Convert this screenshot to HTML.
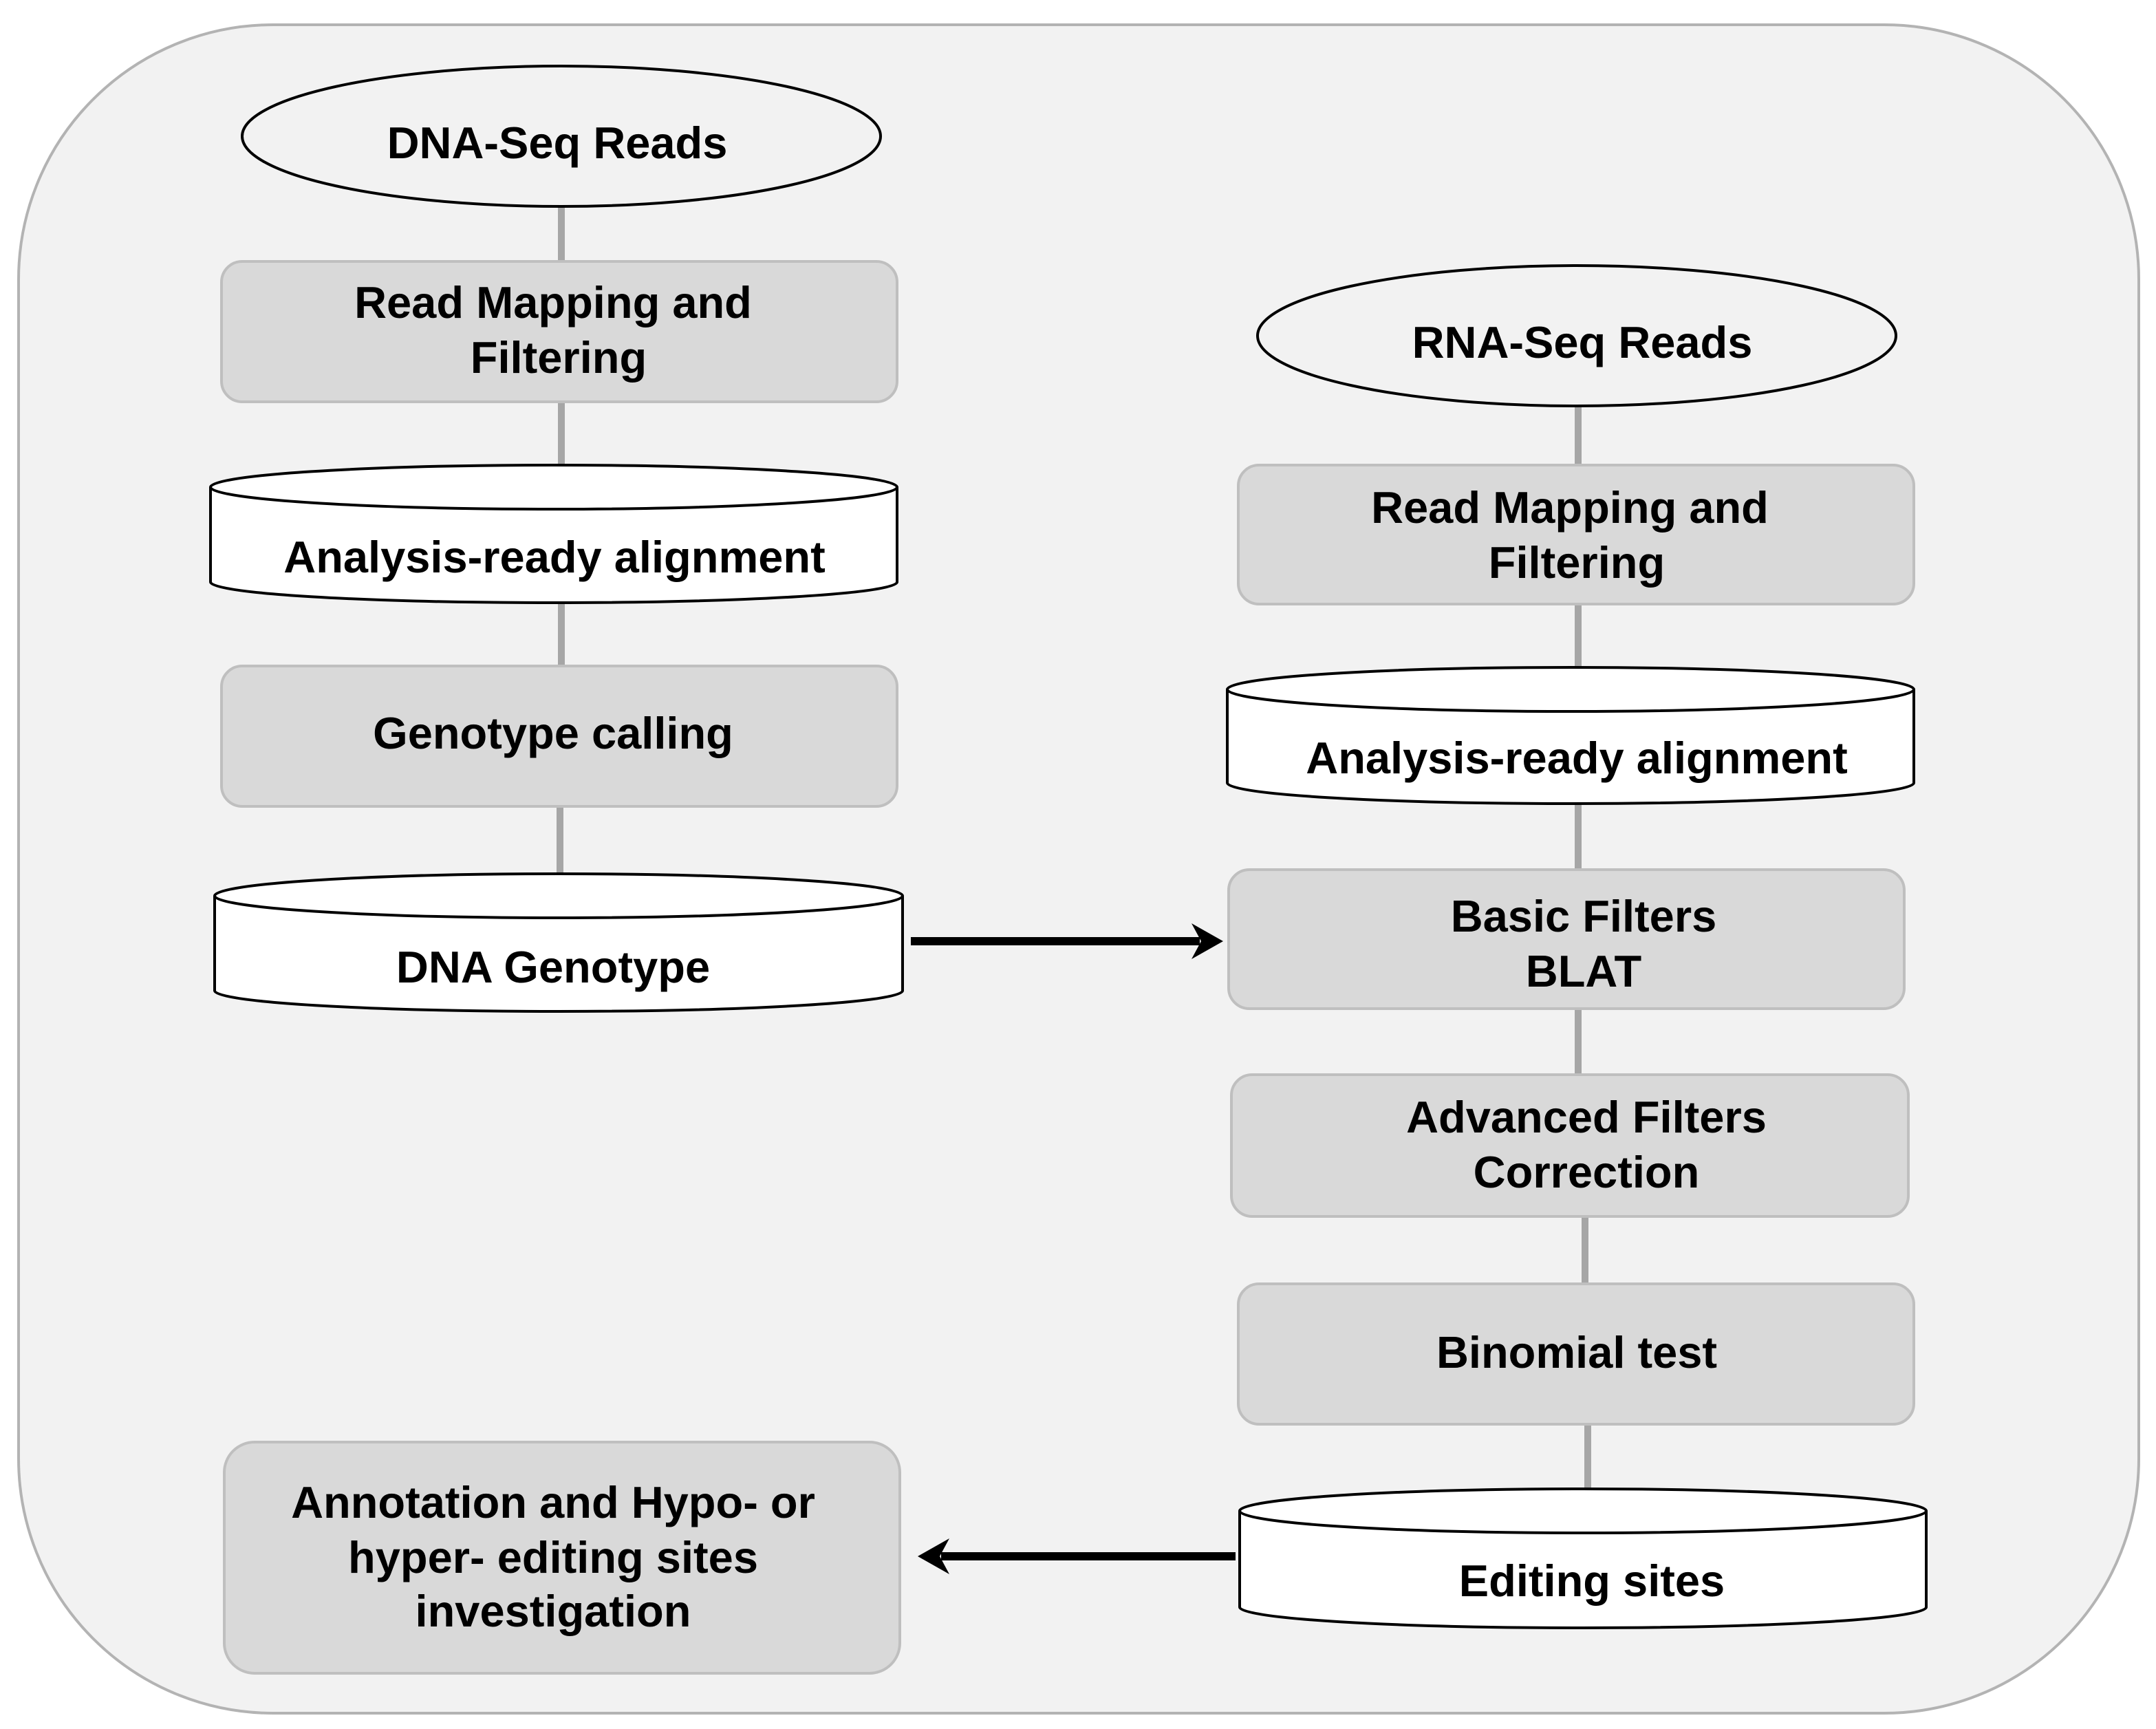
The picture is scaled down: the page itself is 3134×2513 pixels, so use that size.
<!DOCTYPE html>
<html><head><style>
html,body{margin:0;padding:0;background:#fff;}
svg{display:block;}
text{font-family:"Liberation Sans",Arial,sans-serif;font-weight:bold;font-size:32.5px;fill:#000;text-anchor:middle;}
</style></head><body>
<svg width="3134" height="2513" viewBox="0 0 1567 1256.5" xmlns="http://www.w3.org/2000/svg">
<rect x="13.5" y="18" width="1541" height="1227" rx="185" ry="185" fill="#f2f2f2" stroke="#b3b3b3" stroke-width="2"/>
<g stroke="#a6a6a6" stroke-width="5">
<line x1="408" y1="150" x2="408" y2="190"/>
<line x1="408" y1="292" x2="408" y2="338"/>
<line x1="408" y1="438" x2="408" y2="484"/>
<line x1="407" y1="586" x2="407" y2="634"/>
<line x1="1147" y1="295" x2="1147" y2="338"/>
<line x1="1147" y1="439" x2="1147" y2="485"/>
<line x1="1147" y1="584" x2="1147" y2="632"/>
<line x1="1147" y1="733" x2="1147" y2="781"/>
<line x1="1152" y1="884" x2="1152" y2="933"/>
<line x1="1154" y1="1035" x2="1154" y2="1082"/>
</g>
<ellipse cx="408" cy="99" rx="232" ry="51" fill="#f2f2f2" stroke="#000" stroke-width="2"/>
<text x="405" y="115">DNA-Seq Reads</text>
<ellipse cx="1146" cy="244" rx="232" ry="51" fill="#f2f2f2" stroke="#000" stroke-width="2"/>
<text x="1150" y="260">RNA-Seq Reads</text>
<g fill="#d9d9d9" stroke="#bfbfbf" stroke-width="2">
<rect x="161" y="190" width="491" height="102" rx="15"/>
<rect x="161" y="484" width="491" height="102" rx="15"/>
<rect x="900" y="338" width="491" height="101" rx="15"/>
<rect x="893" y="632" width="491" height="101" rx="15"/>
<rect x="895" y="781" width="492" height="103" rx="15"/>
<rect x="900" y="933" width="491" height="102" rx="15"/>
<rect x="163" y="1048" width="491" height="168" rx="22"/>
</g>
<text x="402" y="231">Read Mapping and</text>
<text x="406" y="271">Filtering</text>
<text x="402" y="544">Genotype calling</text>
<text x="1141" y="380">Read Mapping and</text>
<text x="1146" y="420">Filtering</text>
<text x="1151" y="677">Basic Filters</text>
<text x="1151" y="717">BLAT</text>
<text x="1153" y="823">Advanced Filters</text>
<text x="1153" y="863">Correction</text>
<text x="1146" y="994">Binomial test</text>
<text x="402" y="1103">Annotation and Hypo- or</text>
<text x="402" y="1143">hyper- editing sites</text>
<text x="402" y="1182">investigation</text>
<g fill="#fff" stroke="#000" stroke-width="2">
<path d="M153,354 L153,423 A249.5,15 0 0 0 652,423 L652,354"/>
<ellipse cx="402.5" cy="354" rx="249.5" ry="16"/>
<path d="M156,651 L156,720 A250,15 0 0 0 656,720 L656,651"/>
<ellipse cx="406" cy="651" rx="250" ry="16"/>
<path d="M892,501 L892,569 A249.5,15 0 0 0 1391,569 L1391,501"/>
<ellipse cx="1141.5" cy="501" rx="249.5" ry="16"/>
<path d="M901,1098 L901,1168 A249.5,15 0 0 0 1400,1168 L1400,1098"/>
<ellipse cx="1150.5" cy="1098" rx="249.5" ry="16"/>
</g>
<text x="403" y="416">Analysis-ready alignment</text>
<text x="402" y="714">DNA Genotype</text>
<text x="1146" y="562">Analysis-ready alignment</text>
<text x="1157" y="1160">Editing sites</text>
<line x1="662" y1="684" x2="872" y2="684" stroke="#000" stroke-width="6"/>
<polygon points="866,671 889,684 866,697 873,684" fill="#000"/>
<line x1="898" y1="1131" x2="684" y2="1131" stroke="#000" stroke-width="6"/>
<polygon points="690,1118 667,1131 690,1144 683,1131" fill="#000"/>
</svg>
</body></html>
